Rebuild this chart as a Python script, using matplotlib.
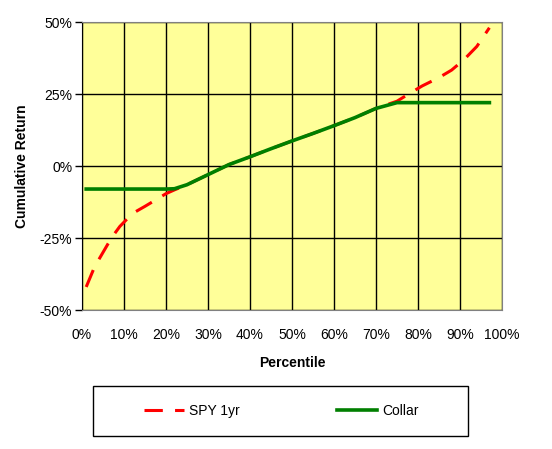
import matplotlib.pyplot as plt
from matplotlib.patches import Rectangle
from matplotlib.ticker import FuncFormatter

plt.rcParams.update({"font.family": "Liberation Sans", "font.size": 10})

pct = [1, 3, 5, 7, 9, 12, 15, 19, 20, 22, 25, 30, 35, 40, 45, 50, 55, 60,
       65, 70, 75, 78, 81, 85, 88, 91, 94, 97]
spy = [-42, -35, -30, -25, -21, -16.5, -14, -10.5, -9.6, -8.3, -6.5, -3.0,
       0.5, 3.2, 6.0, 8.7, 11.3, 14.0, 16.8, 20.0, 22.5, 25.2, 27.8, 30.7,
       33.3, 37.0, 41.5, 48.0]
collar = [-8, -8, -8, -8, -8, -8, -8, -8, -8, -7.9, -6.5, -3.0,
          0.5, 3.2, 6.0, 8.7, 11.3, 14.0, 16.8, 20.0, 22, 22, 22, 22,
          22, 22, 22, 22]

fig = plt.figure(figsize=(5.52, 4.49), dpi=100)
ax = fig.add_axes([82/552, 1 - 310/449, 420/552, 288/449])
ax.set_facecolor("#FFFF99")

ax.plot(pct, spy, color="#FF0000", lw=2.2, dashes=(6, 4), label="SPY 1yr", zorder=3)
ax.plot(pct, collar, color="#007F00", lw=2.6, label="Collar", zorder=4)

ax.set_xlim(0, 100)
ax.set_ylim(-50, 50)
ax.set_xticks(range(0, 101, 10))
ax.set_yticks([-50, -25, 0, 25, 50])
ax.xaxis.set_major_formatter(FuncFormatter(lambda v, p: f"{v:.0f}%"))
ax.yaxis.set_major_formatter(FuncFormatter(lambda v, p: f"{v:.0f}%"))
ax.grid(True, color="black", lw=1)
ax.set_axisbelow(True)
for s in ("top", "right", "bottom"):
    ax.spines[s].set_color("#808080")
ax.spines["left"].set_color("black")
ax.tick_params(axis="x", length=0, pad=13, labelsize=10)
ax.tick_params(axis="y", length=5, width=1, direction="out", pad=2, labelsize=10)

ax.set_xlabel("Percentile", fontweight="bold", fontsize=10, labelpad=10)
ax.set_ylabel("Cumulative Return", fontweight="bold", fontsize=10, labelpad=8)

# legend box drawn separately so it can have a fixed size
fig.patches.append(Rectangle((93/552, 1 - 436/449), 375/552, 50/449,
                             transform=fig.transFigure, fill=False,
                             edgecolor="black", lw=1))
fig.legend(loc="center", bbox_to_anchor=(281/552, 1 - 411/449),
           ncol=2, frameon=False, columnspacing=7.0, handlelength=2.9,
           handletextpad=0.35, fontsize=10)

fig.savefig("out.png", dpi=100)
